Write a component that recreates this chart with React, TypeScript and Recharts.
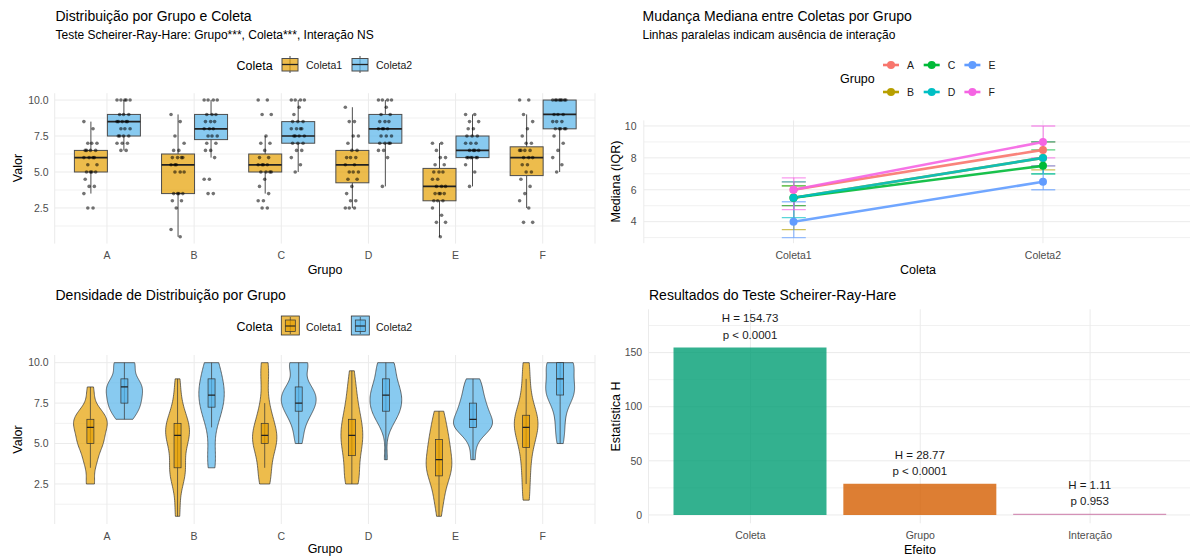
import {
  ComposedChart,
  BarChart,
  Bar,
  Line,
  Scatter,
  XAxis,
  YAxis,
  CartesianGrid,
  LabelList,
  Cell,
} from "recharts";

const FONT = "'Liberation Sans', Arial, Helvetica, sans-serif";

const grupos = ["A", "B", "C", "D", "E", "F"];
const coletas = ["Coleta1", "Coleta2"];
const coresColeta = ["#E69F00", "#56B4E9"];
const coresGrupo = ["#F8766D", "#B79F00", "#00BA38", "#00BFC4", "#619CFF", "#F564E3"];

// [bigode inf, Q1, mediana, Q3, bigode sup]
const caixaColeta1 = [
  [3.5, 5.0, 6.0, 6.5, 8.5],
  [0.5, 3.5, 5.5, 6.25, 9.0],
  [3.5, 5.0, 5.5, 6.25, 7.5],
  [2.5, 4.25, 5.5, 6.5, 9.5],
  [0.5, 3.0, 4.0, 5.25, 7.0],
  [2.5, 4.75, 6.0, 6.75, 9.0],
];
const caixaColeta2 = [
  [6.5, 7.5, 8.5, 9.0, 10],
  [6.0, 7.25, 8.0, 9.0, 10],
  [5.0, 7.0, 7.5, 8.5, 10],
  [4.0, 7.0, 8.0, 9.0, 10],
  [4.0, 6.0, 6.5, 7.5, 9.0],
  [5.0, 8.0, 9.0, 10, 10],
];

const pontosColeta1 = [
  [8.5, 8.0, 7.0, 7.0, 7.0, 6.5, 6.5, 6.5, 6.5, 6.0, 6.0, 6.0, 6.0, 5.5, 5.5, 5.0, 5.0, 5.0, 5.0, 4.5, 4.0, 4.0, 3.5, 2.5, 2.5],
  [9.0, 8.5, 7.5, 7.0, 6.5, 6.5, 6.0, 6.0, 6.0, 6.0, 5.5, 5.5, 5.0, 5.0, 5.0, 3.5, 3.5, 3.5, 3.5, 3.0, 3.0, 2.5, 1.0, 0.5, 5.5],
  [10, 10, 9.0, 9.0, 7.5, 7.0, 7.0, 6.5, 6.0, 6.0, 5.5, 5.5, 5.5, 5.5, 5.0, 5.0, 5.0, 5.0, 4.5, 4.0, 3.5, 3.0, 3.0, 2.5, 2.5],
  [9.5, 8.5, 8.5, 7.5, 7.5, 7.0, 6.5, 6.5, 6.0, 6.0, 6.0, 5.5, 5.5, 5.0, 5.0, 5.0, 4.5, 4.5, 4.0, 3.5, 3.0, 3.0, 2.5, 2.5, 2.5],
  [7.0, 7.0, 6.5, 6.0, 6.0, 5.5, 5.5, 5.0, 5.0, 5.0, 4.5, 4.5, 4.0, 4.0, 4.0, 3.5, 3.5, 3.5, 3.5, 3.0, 3.0, 3.0, 2.5, 2.0, 1.5, 1.5, 0.5],
  [10, 10, 9.0, 8.5, 8.0, 7.5, 7.0, 7.0, 6.5, 6.5, 6.5, 6.5, 6.0, 6.0, 6.0, 5.5, 5.5, 5.0, 5.0, 4.5, 4.0, 3.5, 3.0, 2.5, 1.5, 1.5],
];
const pontosColeta2 = [
  [10, 10, 10, 10, 10, 9.0, 9.0, 9.0, 8.5, 8.5, 8.5, 8.5, 8.5, 8.0, 8.0, 8.0, 7.5, 7.5, 7.5, 7.5, 7.0, 7.0, 7.0, 6.5, 6.5],
  [10, 10, 10, 10, 9.0, 9.0, 9.0, 8.5, 8.5, 8.5, 8.0, 8.0, 8.0, 7.5, 7.5, 7.5, 7.0, 7.0, 6.5, 6.5, 6.0, 4.5, 4.5, 3.5, 3.5],
  [10, 10, 10, 10, 9.5, 9.0, 8.5, 8.5, 8.5, 8.0, 8.0, 8.0, 8.0, 7.5, 7.5, 7.5, 7.5, 7.0, 7.0, 7.0, 6.5, 6.5, 6.0, 5.5, 5.0],
  [10, 10, 10, 10, 9.5, 9.0, 9.0, 8.5, 8.5, 8.5, 8.0, 8.0, 8.0, 8.0, 7.5, 7.5, 7.5, 7.0, 7.0, 7.0, 7.0, 6.5, 6.5, 6.0, 4.0],
  [9.0, 9.0, 8.5, 8.5, 8.0, 8.0, 7.5, 7.5, 7.5, 7.0, 7.0, 7.0, 6.5, 6.5, 6.5, 6.5, 6.0, 6.0, 6.0, 6.0, 6.0, 6.0, 5.5, 5.0, 4.0],
  [10, 10, 10, 10, 10, 10, 10, 10, 9.0, 9.0, 9.0, 8.5, 8.5, 8.5, 8.0, 8.0, 8.0, 8.0, 8.0, 7.5, 7.0, 6.5, 6.0, 5.5, 5.0],
];

const efeitos = ["Coleta", "Grupo", "Interação"];
const estatisticaH = [154.73, 28.77, 1.11];
const valoresP = ["p < 0.0001", "p < 0.0001", "p 0.953"];
const coresEfeito = ["#009E73", "#D55E00", "#CC79A7"];

const ticksValor = [2.5, 5, 7.5, 10];
const minorValor = [1.25, 3.75, 6.25, 8.75];
const ticksMediana = [4, 6, 8, 10];
const minorMediana = [3, 5, 7, 9];
const ticksH = [0, 50, 100, 150];
const minorH = [25, 75, 125, 175];

// ---- estatística: densidade (kernel gaussiano, bw.nrd0) ----
function quantil(s: number[], p: number) {
  const h = (s.length - 1) * p;
  const lo = Math.floor(h);
  const hi = Math.min(lo + 1, s.length - 1);
  return s[lo] + (h - lo) * (s[hi] - s[lo]);
}

function densidade(x: number[]) {
  const s = [...x].sort((a, b) => a - b);
  const n = s.length;
  const media = s.reduce((a, b) => a + b, 0) / n;
  const sd = Math.sqrt(s.reduce((a, b) => a + (b - media) ** 2, 0) / (n - 1));
  const iqr = quantil(s, 0.75) - quantil(s, 0.25);
  const bw = 0.9 * Math.min(sd, iqr / 1.34) * Math.pow(n, -0.2);
  const min = s[0];
  const max = s[n - 1];
  const pts: [number, number][] = [];
  for (let i = 0; i < 80; i++) {
    const v = min + ((max - min) * i) / 79;
    let d = 0;
    for (const xi of s) d += Math.exp(-0.5 * ((v - xi) / bw) ** 2);
    pts.push([v, d / (n * bw * Math.sqrt(2 * Math.PI))]);
  }
  return { min, max, pts };
}

const dadosCaixa = grupos.map((g, i) => ({
  grupo: g,
  caixas: [caixaColeta1[i], caixaColeta2[i]],
}));

const dadosPontos = grupos.flatMap((g, i) =>
  [pontosColeta1[i], pontosColeta2[i]].flatMap((vals, j) =>
    vals.map((v, k) => ({
      x: i + 1 + (j === 0 ? -0.19 : 0.19) + (((k * 7) % 11) - 5) * 0.015,
      y: v,
    }))
  )
);

const dadosViolino = grupos.map((g, i) => ({
  grupo: g,
  violinos: [densidade(pontosColeta1[i]), densidade(pontosColeta2[i])],
  caixas: [caixaColeta1[i], caixaColeta2[i]],
}));
const densMax = Math.max(
  ...dadosViolino.flatMap((d) => d.violinos.flatMap((v) => v.pts.map((p) => p[1])))
);

const dadosMediana = coletas.map((c, j) => {
  const row: any = { coleta: c };
  grupos.forEach((g, i) => {
    const s = (j === 0 ? caixaColeta1 : caixaColeta2)[i];
    row[g] = s[2];
    row[g + "_iqr"] = [s[1], s[3]];
  });
  return row;
});

const dadosH = efeitos.map((e, i) => ({ efeito: e, H: estatisticaH[i] }));

const AXIS_TEXT = { fontSize: 10.5, fill: "#4d4d4d", fontFamily: FONT };

const faixaCaixa = (idx: number) => (d: any) =>
  d && d.caixas ? [d.caixas[idx][1], d.caixas[idx][3]] : null;
const faixaViolino = (idx: number) => (d: any) =>
  d && d.violinos ? [d.violinos[idx].min, d.violinos[idx].max] : null;

// ---- shapes ----
function desenhaCaixa(p: any, idx: number) {
  const d = p.payload && p.payload.caixas ? p.payload : p;
  if (!d || !d.caixas) return <g />;
  const [lo, q1, med, q3, hi] = d.caixas[idx];
  const top = Math.min(p.y, p.y + p.height);
  const k = Math.abs(p.height) / (q3 - q1);
  const py = (v: number) => top + (q3 - v) * k;
  const cx = p.x + p.width / 2;
  const cor = coresColeta[idx];
  return (
    <g>
      <line x1={cx} x2={cx} y1={py(hi)} y2={py(q3)} stroke="#4d4d4d" strokeWidth={1} />
      <line x1={cx} x2={cx} y1={py(q1)} y2={py(lo)} stroke="#4d4d4d" strokeWidth={1} />
      <rect x={p.x} y={py(q3)} width={p.width} height={py(q1) - py(q3)} fill={cor} fillOpacity={0.7} stroke="#4d4d4d" strokeWidth={1} />
      <line x1={p.x} x2={p.x + p.width} y1={py(med)} y2={py(med)} stroke="#222" strokeWidth={1.7} />
    </g>
  );
}

function desenhaViolino(p: any, idx: number) {
  const d = p.payload && p.payload.violinos ? p.payload : p;
  if (!d || !d.violinos) return <g />;
  const vio = d.violinos[idx];
  const [lo, q1, med, q3, hi] = d.caixas[idx];
  const top = Math.min(p.y, p.y + p.height);
  const k = Math.abs(p.height) / (vio.max - vio.min);
  const py = (v: number) => top + (vio.max - v) * k;
  const cx = p.x + p.width / 2;
  const meia = 19.5;
  const esq = vio.pts.map(([v, dd]: number[]) => `${cx - (dd / densMax) * meia},${py(v)}`);
  const dir = [...vio.pts].reverse().map(([v, dd]: number[]) => `${cx + (dd / densMax) * meia},${py(v)}`);
  const cor = coresColeta[idx];
  const w = 3.5;
  return (
    <g>
      <path d={`M${esq.join("L")}L${dir.join("L")}Z`} fill={cor} fillOpacity={0.7} stroke="#333" strokeWidth={0.7} />
      <line x1={cx} x2={cx} y1={py(hi)} y2={py(lo)} stroke="#333" strokeWidth={0.7} />
      <rect x={cx - w} y={py(q3)} width={2 * w} height={py(q1) - py(q3)} fill={cor} fillOpacity={0.7} stroke="#333" strokeWidth={0.7} />
      <line x1={cx - w} x2={cx + w} y1={py(med)} y2={py(med)} stroke="#222" strokeWidth={1.2} />
    </g>
  );
}

function desenhaErro(p: any, cor: string) {
  if (p == null || p.height == null) return <g />;
  const top = Math.min(p.y, p.y + p.height);
  const bot = top + Math.abs(p.height);
  const cx = p.x + p.width / 2;
  return (
    <g stroke={cor} strokeWidth={1.3} strokeOpacity={0.65}>
      <line x1={cx} x2={cx} y1={top} y2={bot} />
      <line x1={p.x} x2={p.x + p.width} y1={top} y2={top} />
      <line x1={p.x} x2={p.x + p.width} y1={bot} y2={bot} />
    </g>
  );
}

function rotuloH(props: any) {
  const { x, y, width, index } = props;
  if (index == null || estatisticaH[index] == null) return null;
  const cx = x + width / 2;
  return (
    <g>
      <text x={cx} y={y - 25.2} textAnchor="middle" fontSize={11.5} fill="#1a1a1a" fontFamily={FONT}>
        {`H = ${estatisticaH[index].toFixed(2)}`}
      </text>
      <text x={cx} y={y - 8.6} textAnchor="middle" fontSize={11.5} fill="#1a1a1a" fontFamily={FONT}>
        {valoresP[index]}
      </text>
    </g>
  );
}

function T({ x, y, size, children, anchor = "start", fill = "#000", rot = false }: any) {
  return (
    <text
      x={x}
      y={y}
      fontSize={size}
      fill={fill}
      textAnchor={anchor}
      fontFamily={FONT}
      transform={rot ? `rotate(-90 ${x} ${y})` : undefined}
    >
      {children}
    </text>
  );
}

function ChaveCaixa({ x, y, cor }: any) {
  return (
    <g>
      <line x1={x + 8} x2={x + 8} y1={y} y2={y + 17} stroke="#4d4d4d" />
      <rect x={x} y={y + 2.5} width={16} height={12.5} fill={cor} fillOpacity={0.7} stroke="#4d4d4d" />
      <line x1={x} x2={x + 16} y1={y + 8.5} y2={y + 8.5} stroke="#222" strokeWidth={1.3} />
    </g>
  );
}

function ChaveViolino({ x, y, cor }: any) {
  return (
    <g>
      <rect x={x} y={y} width={18} height={19} fill={cor} fillOpacity={0.7} stroke="#333" strokeWidth={0.8} />
      <line x1={x + 9} x2={x + 9} y1={y + 1} y2={y + 18} stroke="#333" strokeWidth={0.7} />
      <rect x={x + 4} y={y + 4} width={10} height={11.5} fill={cor} fillOpacity={0.7} stroke="#333" strokeWidth={0.7} />
      <line x1={x + 4} x2={x + 14} y1={y + 10} y2={y + 10} stroke="#222" strokeWidth={1.1} />
    </g>
  );
}

export default function App() {
  return (
    <div style={{ position: "absolute", left: 0, top: 0, width: 1190, height: 558, overflow: "hidden", background: "#fff", fontFamily: FONT }}>
      {/* painel 1: boxplot */}
      <div style={{ position: "absolute", left: 0, top: 0 }}>
        <ComposedChart width={600} height={280} data={dadosCaixa} margin={{ top: 93.2, right: 5, bottom: 6.4, left: 14.7 }} barGap={0} barSize={33}>
          <CartesianGrid horizontalValues={minorValor} vertical={false} stroke="#f1f1f1" />
          <CartesianGrid horizontalValues={ticksValor} stroke="#ebebeb" />
          <XAxis dataKey="grupo" padding={{ left: 8.7, right: 8.7 }} axisLine={false} tickLine={false} tickSize={0} tickMargin={7.7} tick={AXIS_TEXT} height={30} interval={0} />
          <XAxis xAxisId="num" type="number" dataKey="x" domain={[0.4, 6.6]} hide allowDataOverflow />
          <YAxis type="number" domain={[0.025, 10.475]} ticks={ticksValor} tickFormatter={(v: number) => v.toFixed(1)} axisLine={false} tickLine={false} tickSize={0} tickMargin={6.1} width={40} tick={AXIS_TEXT} allowDataOverflow />
          <Bar dataKey={faixaCaixa(0)} shape={(p: any) => desenhaCaixa(p, 0)} isAnimationActive={false} />
          <Bar dataKey={faixaCaixa(1)} shape={(p: any) => desenhaCaixa(p, 1)} isAnimationActive={false} />
          <Scatter xAxisId="num" data={dadosPontos} dataKey="y" isAnimationActive={false} shape={(p: any) => <circle cx={p.cx} cy={p.cy} r={1.8} fill="#000" fillOpacity={0.55} />} />
        </ComposedChart>
      </div>

      {/* painel 2: medianas com IQR */}
      <div style={{ position: "absolute", left: 600, top: 0 }}>
        <ComposedChart width={600} height={280} data={dadosMediana} margin={{ top: 120.4, right: 7.3, bottom: 6.8, left: 13.8 }} barSize={24} barGap={-24}>
          <CartesianGrid horizontalValues={minorMediana} vertical={false} stroke="#f1f1f1" />
          <CartesianGrid horizontalValues={ticksMediana} stroke="#ebebeb" />
          <XAxis dataKey="coleta" padding={{ left: 25, right: 25 }} axisLine={false} tickLine={false} tickSize={0} tickMargin={8.1} tick={AXIS_TEXT} height={30} interval={0} />
          <YAxis type="number" domain={[2.65, 10.35]} ticks={ticksMediana} axisLine={false} tickLine={false} tickSize={0} tickMargin={7.3} width={30} tick={AXIS_TEXT} allowDataOverflow />
          {grupos.map((g, i) => (
            <Bar key={"e" + g} dataKey={g + "_iqr"} shape={(p: any) => desenhaErro(p, coresGrupo[i])} isAnimationActive={false} />
          ))}
          {grupos.map((g, i) => (
            <Line key={g} dataKey={g} stroke={coresGrupo[i]} strokeWidth={2.6} strokeOpacity={0.9} dot={{ r: 4, fill: coresGrupo[i], stroke: "none" }} activeDot={false} isAnimationActive={false} />
          ))}
        </ComposedChart>
      </div>

      {/* painel 3: violinos */}
      <div style={{ position: "absolute", left: 0, top: 280 }}>
        <ComposedChart width={600} height={278} data={dadosViolino} margin={{ top: 75, right: 5, bottom: 4, left: 14.7 }} barGap={0} barSize={34}>
          <CartesianGrid horizontalValues={minorValor} vertical={false} stroke="#f1f1f1" />
          <CartesianGrid horizontalValues={ticksValor} stroke="#ebebeb" />
          <XAxis dataKey="grupo" padding={{ left: 8.7, right: 8.7 }} axisLine={false} tickLine={false} tickSize={0} tickMargin={8.3} tick={AXIS_TEXT} height={30} interval={0} />
          <YAxis type="number" domain={[0.025, 10.475]} ticks={ticksValor} tickFormatter={(v: number) => v.toFixed(1)} axisLine={false} tickLine={false} tickSize={0} tickMargin={6.1} width={40} tick={AXIS_TEXT} allowDataOverflow />
          <Bar dataKey={faixaViolino(0)} shape={(p: any) => desenhaViolino(p, 0)} isAnimationActive={false} />
          <Bar dataKey={faixaViolino(1)} shape={(p: any) => desenhaViolino(p, 1)} isAnimationActive={false} />
        </ComposedChart>
      </div>

      {/* painel 4: estatística H */}
      <div style={{ position: "absolute", left: 600, top: 280 }}>
        <BarChart width={600} height={278} data={dadosH} margin={{ top: 29.3, right: 8, bottom: 4.7, left: 8.5 }} barSize={153}>
          <CartesianGrid horizontalValues={minorH} vertical={false} stroke="#f1f1f1" />
          <CartesianGrid horizontalValues={ticksH} stroke="#ebebeb" />
          <XAxis dataKey="efeito" padding={{ left: 17, right: 17 }} axisLine={false} tickLine={false} tickSize={0} tickMargin={8} tick={AXIS_TEXT} height={30} interval={0} />
          <YAxis type="number" domain={[-7.7, 190]} ticks={ticksH} axisLine={false} tickLine={false} tickSize={0} tickMargin={6.3} width={40} tick={AXIS_TEXT} allowDataOverflow />
          <Bar dataKey="H" isAnimationActive={false}>
            {dadosH.map((d, i) => (
              <Cell key={d.efeito} fill={coresEfeito[i]} fillOpacity={0.8} />
            ))}
            <LabelList dataKey="H" content={rotuloH} />
          </Bar>
        </BarChart>
      </div>

      {/* textos e legendas */}
      <svg width={1190} height={558} style={{ position: "absolute", left: 0, top: 0, pointerEvents: "none" }}>
        <T x={55.5} y={20.5} size={14}>Distribuição por Grupo e Coleta</T>
        <T x={55.5} y={39} size={12}>Teste Scheirer-Ray-Hare: Grupo***, Coleta***, Interação NS</T>
        <T x={236.5} y={69.5} size={12.5}>Coleta</T>
        <ChaveCaixa x={282} y={56} cor={coresColeta[0]} />
        <T x={306} y={68.8} size={10.5} fill="#1a1a1a">Coleta1</T>
        <ChaveCaixa x={352} y={56} cor={coresColeta[1]} />
        <T x={376} y={68.8} size={10.5} fill="#1a1a1a">Coleta2</T>
        <T x={22.4} y={168} size={12.5} anchor="middle" rot>Valor</T>
        <T x={325} y={273.5} size={12.5} anchor="middle">Grupo</T>

        <T x={642.5} y={20.5} size={14}>Mudança Mediana entre Coletas por Grupo</T>
        <T x={642.5} y={39} size={12}>Linhas paralelas indicam ausência de interação</T>
        <T x={840} y={83} size={12.5}>Grupo</T>
        {grupos.map((g, i) => {
          const col = Math.floor(i / 2);
          const row = i % 2;
          const kx = 883 + col * 40.7;
          const ky = row === 0 ? 65 : 92;
          return (
            <g key={g}>
              <line x1={kx} x2={kx + 16} y1={ky} y2={ky} stroke={coresGrupo[i]} strokeWidth={2.6} />
              <circle cx={kx + 8} cy={ky} r={4} fill={coresGrupo[i]} />
              <T x={kx + 24} y={ky + 3.8} size={10.5} fill="#1a1a1a">{g}</T>
            </g>
          );
        })}
        <T x={619.5} y={181.5} size={12.5} anchor="middle" rot>Mediana (IQR)</T>
        <T x={918} y={273.5} size={12.5} anchor="middle">Coleta</T>

        <T x={55.5} y={300} size={14}>Densidade de Distribuição por Grupo</T>
        <T x={236.5} y={331} size={12.5}>Coleta</T>
        <ChaveViolino x={281.3} y={316} cor={coresColeta[0]} />
        <T x={306} y={330.5} size={10.5} fill="#1a1a1a">Coleta1</T>
        <ChaveViolino x={351.3} y={316} cor={coresColeta[1]} />
        <T x={376} y={330.5} size={10.5} fill="#1a1a1a">Coleta2</T>
        <T x={22.4} y={439.5} size={12.5} anchor="middle" rot>Valor</T>
        <T x={325} y={552.5} size={12.5} anchor="middle">Grupo</T>

        <T x={649} y={300} size={14}>Resultados do Teste Scheirer-Ray-Hare</T>
        <T x={619.5} y={416.5} size={12.5} anchor="middle" rot>Estatística H</T>
        <T x={920} y={554} size={12.5} anchor="middle">Efeito</T>
      </svg>
    </div>
  );
}
